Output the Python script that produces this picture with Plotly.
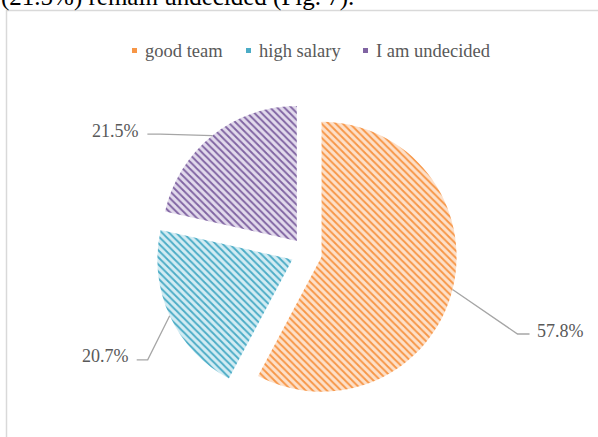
import math
import plotly.graph_objects as go

# ---- data -------------------------------------------------------------
categories = ["good team", "high salary", "I am undecided"]
shares = [57.8, 20.7, 21.5]
colors = ["#F79646", "#4BACC6", "#8064A2"]
tints = ["#FDE0C9", "#D3ECF3", "#E2DAEC"]
heading = "(21.5%) remain undecided (Fig. 7)."

# ---- layout constants (pixels) ----------------------------------------
W, H = 598, 437
CX, CY = 306.5, 253.0      # pie centre
R = 135.0                  # pie radius
PULL = 0.115               # explosion, fraction of radius
TEXT_GRAY = "#595959"
LINE_GRAY = "#A6A6A6"
SERIF = "Liberation Serif, Times New Roman, serif"

# leader-line elbow offset from slice edge, tail length, text side
label_style = [
    dict(elbow=(65, 44.5), tail=12, side="right"),
    dict(elbow=(-22, 44), tail=-11, side="left"),
    dict(elbow=(-52, -1.5), tail=-13, side="left"),
]

# legend key positions (text start x) and row baseline
legend_x = [143, 257, 374]
legend_y = 51.3


def px(x):
    return x / W


def py(y):
    return 1 - y / H


box = 2 * R * (1 + PULL)
fig = go.Figure(
    go.Pie(
        labels=categories,
        values=shares,
        sort=False,
        direction="clockwise",
        rotation=0,
        pull=[PULL] * len(shares),
        textinfo="none",
        hoverinfo="label+percent",
        showlegend=False,
        marker=dict(
            colors=tints,
            line=dict(width=0),
            pattern=dict(
                shape="\\",
                fgcolor=colors,
                bgcolor=tints,
                size=5,
                solidity=0.38,
                fillmode="replace",
            ),
        ),
        domain=dict(
            x=[px(CX - box / 2), px(CX + box / 2)],
            y=[py(CY + box / 2), py(CY - box / 2)],
        ),
    )
)

shapes = []
annotations = []

# outer chart frame
shapes.append(dict(
    type="rect", xref="paper", yref="paper",
    x0=px(6.5), y0=py(10.5), x1=px(W + 20), y1=py(H + 20),
    line=dict(color="#D9D9D9", width=1.5), fillcolor="rgba(0,0,0,0)",
    layer="below",
))

# value labels with leader lines
total = sum(shares)
start = 0.0
for value, style in zip(shares, label_style):
    span = 360.0 * value / total
    mid = math.radians(start + span / 2)
    start += span
    edge_r = R * (1 + PULL)
    ex = CX + edge_r * math.sin(mid)
    ey = CY - edge_r * math.cos(mid)
    bx = ex + style["elbow"][0]
    by = ey + style["elbow"][1]
    tx = bx + style["tail"]
    shapes.append(dict(
        type="path", xref="paper", yref="paper",
        path=f"M{px(ex)},{py(ey)} L{px(bx)},{py(by)} L{px(tx)},{py(by)}",
        line=dict(color=LINE_GRAY, width=1.3),
    ))
    right = style["side"] == "right"
    annotations.append(dict(
        xref="paper", yref="paper",
        x=px(tx + (5 if right else -6)), y=py(by - 3.5),
        xanchor="left" if right else "right", yanchor="middle",
        text=f"{value:.1f}%", showarrow=False,
        font=dict(family=SERIF, size=18, color=TEXT_GRAY),
    ))

# legend row
for name, col, x0 in zip(categories, colors, legend_x):
    mx = x0 - 8.5
    shapes.append(dict(
        type="rect", xref="paper", yref="paper",
        x0=px(mx - 2.5), x1=px(mx + 2.5),
        y0=py(legend_y + 1.7), y1=py(legend_y - 3.3),
        line=dict(width=0), fillcolor=col,
    ))
    annotations.append(dict(
        xref="paper", yref="paper", x=px(x0), y=py(legend_y),
        xanchor="left", yanchor="middle", text=name, showarrow=False,
        font=dict(family=SERIF, size=18.5, color=TEXT_GRAY),
    ))

# running text line above the chart
annotations.append(dict(
    xref="paper", yref="paper", x=px(-1), y=py(-2.7),
    xanchor="left", yanchor="middle", text=heading, showarrow=False,
    font=dict(family=SERIF, size=25, color="#000000"),
))

fig.update_layout(
    width=W, height=H,
    margin=dict(l=0, r=0, t=0, b=0),
    paper_bgcolor="white",
    plot_bgcolor="white",
    shapes=shapes,
    annotations=annotations,
)

fig.write_html("out.html")
